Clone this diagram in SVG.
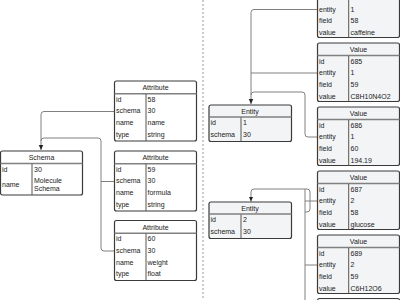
<svg xmlns="http://www.w3.org/2000/svg" width="400" height="300" viewBox="0 0 400 300">
<style>
text{font-family:"Liberation Sans",Arial,sans-serif;font-size:7px;fill:#222}
.h{text-anchor:middle}
.box{stroke:#3a3a3a;stroke-width:1.2}
.w{fill:#ffffff}
.g{fill:#f3f4f6}
.sep{stroke:#808080;stroke-width:1.6}
.col{stroke:#555;stroke-width:1}
.c{fill:none;stroke:#808080;stroke-width:1}
.d{stroke:#9a9a9a;stroke-width:1;stroke-dasharray:2,2}
</style>
<defs>
<marker id="ar" markerUnits="userSpaceOnUse" markerWidth="6" markerHeight="6" refX="5" refY="3" orient="auto">
<path d="M0,0.8 L5,3 L0,5.2 Z" fill="#222"/>
</marker>
</defs>
<rect width="400" height="300" fill="#ffffff"/>
<line class="d" x1="203" y1="0" x2="203" y2="300"/>

<g id="connectors">
<path class="c" d="M114.5,111.5 H44 q-3,0 -3,3 V150" marker-end="url(#ar)"/>
<path class="c" d="M114.5,181.5 H101"/>
<path class="c" d="M114.5,251 H104 q-3,0 -3,-3 V141 q0,-3 -3,-3 H44 q-3,0 -3,3"/>
<path class="c" d="M317.5,9.5 H254 q-3,0 -3,3 V104" marker-end="url(#ar)"/>
<path class="c" d="M317.5,73 H251"/>
<path class="c" d="M317.5,137 H308 q-3,0 -3,-3 V95 q0,-3 -3,-3 H254 q-3,0 -3,3"/>
<path class="c" d="M251,201.5 V192 q0,-3 3,-3 H307 q3,0 3,3 V209 q0,3 -3,3 H305"/>
<line x1="251" y1="195" x2="251" y2="201.5" stroke="none" marker-end="url(#ar)"/>
<path class="c" d="M317.5,201 H305"/>
<path class="c" d="M317.5,265 H305"/>
<path class="c" d="M305,300 V189"/>
</g>

<g id="schema">
<rect class="box w" x="0.5" y="151" width="82" height="44" rx="2"/>
<line class="sep" x1="0.5" y1="163.5" x2="82.5" y2="163.5"/>
<line class="col" x1="32" y1="164" x2="32" y2="195"/>
<text class="h" x="41.5" y="160">Schema</text>
<text x="2" y="171.5">id</text><text x="34" y="171.5">30</text>
<text x="2" y="187">name</text><text x="34" y="183">Molecule</text><text x="34" y="191">Schema</text>
</g>

<g id="attr58">
<rect class="box w" x="114.5" y="81" width="82" height="60" rx="2"/>
<line class="sep" x1="114.5" y1="93.8" x2="196.5" y2="93.8"/>
<line class="col" x1="146" y1="94" x2="146" y2="141"/>
<text class="h" x="155.5" y="90.2">Attribute</text>
<text x="116" y="101.5">id</text><text x="147.5" y="101.5">58</text>
<text x="116" y="113.2">schema</text><text x="147.5" y="113.2">30</text>
<text x="116" y="125">name</text><text x="147.5" y="125">name</text>
<text x="116" y="136.8">type</text><text x="147.5" y="136.8">string</text>
</g>

<g id="attr59">
<rect class="box w" x="114.5" y="151" width="82" height="60" rx="2"/>
<line class="sep" x1="114.5" y1="163.8" x2="196.5" y2="163.8"/>
<line class="col" x1="146" y1="164" x2="146" y2="211"/>
<text class="h" x="155.5" y="160.2">Attribute</text>
<text x="116" y="171.5">id</text><text x="147.5" y="171.5">59</text>
<text x="116" y="183.2">schema</text><text x="147.5" y="183.2">30</text>
<text x="116" y="195">name</text><text x="147.5" y="195">formula</text>
<text x="116" y="206.8">type</text><text x="147.5" y="206.8">string</text>
</g>

<g id="attr60">
<rect class="box w" x="114.5" y="220.5" width="82" height="60" rx="2"/>
<line class="sep" x1="114.5" y1="233.3" x2="196.5" y2="233.3"/>
<line class="col" x1="146" y1="233.5" x2="146" y2="280.5"/>
<text class="h" x="155.5" y="229.7">Attribute</text>
<text x="116" y="241">id</text><text x="147.5" y="241">60</text>
<text x="116" y="252.7">schema</text><text x="147.5" y="252.7">30</text>
<text x="116" y="264.5">name</text><text x="147.5" y="264.5">weight</text>
<text x="116" y="276.3">type</text><text x="147.5" y="276.3">float</text>
</g>

<g id="entity1">
<rect class="box g" x="209" y="105" width="82.5" height="36.5" rx="2"/>
<line class="sep" x1="209" y1="117" x2="291.5" y2="117"/>
<line class="col" x1="241" y1="117.5" x2="241" y2="141.5"/>
<text class="h" x="250" y="113.5">Entity</text>
<text x="210.5" y="124.5">id</text><text x="243" y="124.5">1</text>
<text x="210.5" y="136.5">schema</text><text x="243" y="136.5">30</text>
</g>

<g id="entity2">
<rect class="box g" x="209" y="202" width="82.5" height="36.5" rx="2"/>
<line class="sep" x1="209" y1="214" x2="291.5" y2="214"/>
<line class="col" x1="241" y1="214.5" x2="241" y2="238.5"/>
<text class="h" x="250" y="210.5">Entity</text>
<text x="210.5" y="221.5">id</text><text x="243" y="221.5">2</text>
<text x="210.5" y="233.5">schema</text><text x="243" y="233.5">30</text>
</g>

<g id="value684">
<rect class="box g" x="317.5" y="-21" width="82" height="58.5" rx="2"/>
<line class="sep" x1="317.5" y1="-8.5" x2="399.5" y2="-8.5"/>
<line class="col" x1="348.7" y1="-8" x2="348.7" y2="37.5"/>
<line stroke="#bbb" stroke-width="0.6" x1="317.5" y1="3" x2="317.5" y2="3"/>
<text x="319" y="11.7">entity</text><text x="350.5" y="11.7">1</text>
<text x="319" y="23.3">field</text><text x="350.5" y="23.3">58</text>
<text x="319" y="34.8">value</text><text x="350.5" y="34.8">caffeine</text>
</g>

<g id="value685">
<rect class="box g" x="317.5" y="43" width="82" height="58.5" rx="2"/>
<line class="sep" x1="317.5" y1="55.5" x2="399.5" y2="55.5"/>
<line class="col" x1="348.7" y1="56" x2="348.7" y2="101.5"/>
<text class="h" x="358.5" y="51.8">Value</text>
<text x="319" y="63.8">id</text><text x="350.5" y="63.8">685</text>
<text x="319" y="75.3">entity</text><text x="350.5" y="75.3">1</text>
<text x="319" y="86.9">field</text><text x="350.5" y="86.9">59</text>
<text x="319" y="98.5">value</text><text x="350.5" y="98.5">C8H10N4O2</text>
</g>

<g id="value686">
<rect class="box g" x="317.5" y="107" width="82" height="58.5" rx="2"/>
<line class="sep" x1="317.5" y1="119.5" x2="399.5" y2="119.5"/>
<line class="col" x1="348.7" y1="120" x2="348.7" y2="165.5"/>
<text class="h" x="358.5" y="115.8">Value</text>
<text x="319" y="127.8">id</text><text x="350.5" y="127.8">686</text>
<text x="319" y="139.3">entity</text><text x="350.5" y="139.3">1</text>
<text x="319" y="150.9">field</text><text x="350.5" y="150.9">60</text>
<text x="319" y="162.5">value</text><text x="350.5" y="162.5">194.19</text>
</g>

<g id="value687">
<rect class="box g" x="317.5" y="171" width="82" height="58.5" rx="2"/>
<line class="sep" x1="317.5" y1="183.5" x2="399.5" y2="183.5"/>
<line class="col" x1="348.7" y1="184" x2="348.7" y2="229.5"/>
<text class="h" x="358.5" y="179.8">Value</text>
<text x="319" y="191.8">id</text><text x="350.5" y="191.8">687</text>
<text x="319" y="203.3">entity</text><text x="350.5" y="203.3">2</text>
<text x="319" y="214.9">field</text><text x="350.5" y="214.9">58</text>
<text x="319" y="226.5">value</text><text x="350.5" y="226.5">glucose</text>
</g>

<g id="value689">
<rect class="box g" x="317.5" y="235" width="82" height="58.5" rx="2"/>
<line class="sep" x1="317.5" y1="247.5" x2="399.5" y2="247.5"/>
<line class="col" x1="348.7" y1="248" x2="348.7" y2="293.5"/>
<text class="h" x="358.5" y="243.8">Value</text>
<text x="319" y="255.8">id</text><text x="350.5" y="255.8">689</text>
<text x="319" y="267.3">entity</text><text x="350.5" y="267.3">2</text>
<text x="319" y="278.9">field</text><text x="350.5" y="278.9">59</text>
<text x="319" y="290.5">value</text><text x="350.5" y="290.5">C6H12O6</text>
</g>

<g id="value690">
<rect class="box g" x="317.5" y="298.5" width="82" height="58.5" rx="2"/>
</g>
</svg>
